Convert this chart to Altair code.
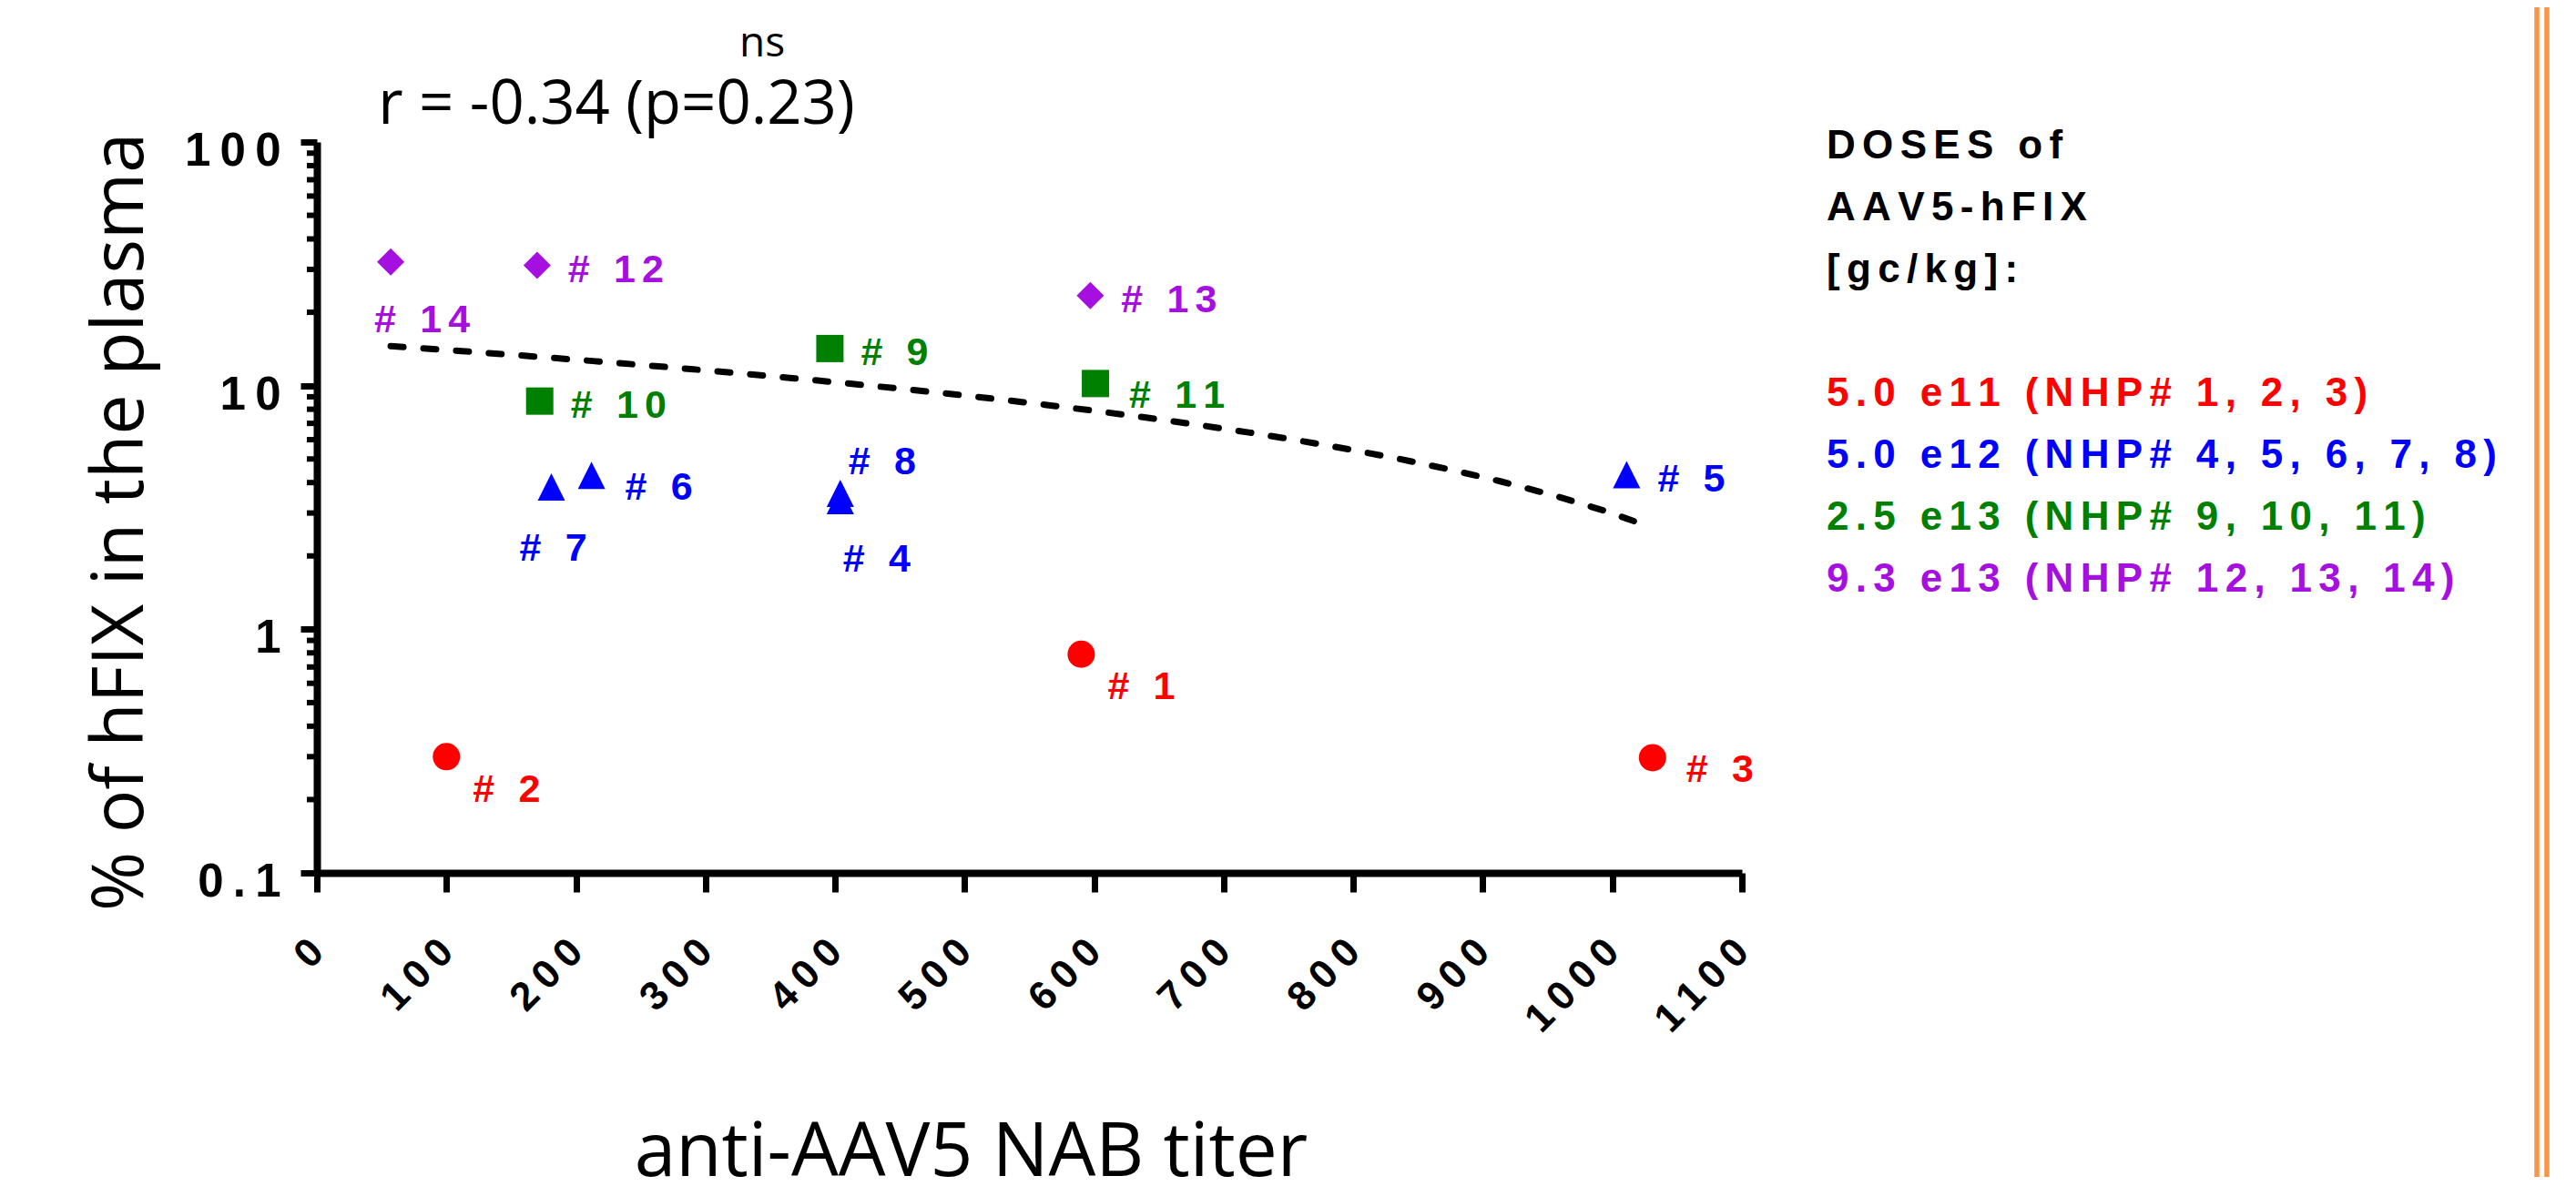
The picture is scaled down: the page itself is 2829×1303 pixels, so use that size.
import altair as alt
import pandas as pd

# ---------------- data ----------------
nhp = [1, 2, 3, 4, 5, 6, 7, 8, 9, 10, 11, 12, 13, 14]
titer = [590, 100, 1031, 404, 1011, 212, 181, 404, 396, 172, 601, 170, 597, 57]
hfix = [0.79, 0.30, 0.297, 3.37, 4.31, 4.28, 3.84, 3.61, 14.2, 8.64, 10.2, 31.2, 23.4, 32.2]
dose = ["5.0 e11"] * 3 + ["5.0 e12"] * 5 + ["2.5 e13"] * 3 + ["9.3 e13"] * 3
label_place = ["se", "se", "e_low", "s", "e", "e_low", "sww", "n", "e", "e", "e_low", "e", "e", "sw"]

dose_levels = ["5.0 e11", "5.0 e12", "2.5 e13", "9.3 e13"]
dose_colors = ["#FF0000", "#0000FF", "#008000", "#A50FE0"]
dose_shapes = ["circle", "M0,-1L1,1L-1,1Z", "square", "diamond"]

x_ticks = list(range(0, 1101, 100))
y_major = [0.1, 1, 10, 100]
y_minor = [m * d for d in (0.1, 1, 10) for m in range(2, 10)]

legend_title = ["DOSES of", "AAV5-hFIX", "[gc/kg]:"]
stat_text = "r = -0.34 (p=0.23)"
sig_text = "ns"
x_title = "anti-AAV5 NAB titer"
y_title = "% of hFIX in the plasma"

# ---------------- styling / layout ----------------
THIN = "\u2009"
SIX = "\u2006"
BOLD_FONT = "Liberation Sans, Arial, sans-serif"
TEXT_FONT = "Open Sans, Noto Sans, sans-serif"
W, H = 1565, 803
PAD = {"left": 340, "top": 148, "right": 908, "bottom": 334}


def spaced(s, sp=SIX):
    return sp.join(s)


df = pd.DataFrame({
    "nhp": nhp, "titer": titer, "hfix": hfix, "dose": dose,
    "place": label_place,
    "label": [spaced(f"# {n}") for n in nhp],
})

X = alt.X(
    "titer:Q",
    scale=alt.Scale(domain=[0, 1100], nice=False, zero=False),
    axis=alt.Axis(
        values=x_ticks, grid=False,
        domainColor="black", domainWidth=8,
        tickColor="black", tickWidth=7, tickSize=21,
        labelAngle=315, labelAlign="right", labelBaseline="middle",
        labelPadding=59, labelFont=BOLD_FONT, labelFontSize=44,
        labelFontWeight="bold", labelColor="black",
        labelExpr=f"join(split(format(datum.value, 'd'), ''), '{THIN}')",
        labelOverlap=False, labelFlush=False,
        title=x_title, titleFont=TEXT_FONT, titleFontSize=82,
        titleFontWeight="normal", titleColor="black",
        titleX=718, titleY=332, titleAlign="center", titleBaseline="alphabetic",
    ),
)
Y = alt.Y(
    "hfix:Q",
    scale=alt.Scale(type="log", domain=[0.1, 100], nice=False),
    axis=alt.Axis(
        values=y_major, grid=False,
        domainColor="black", domainWidth=8,
        tickColor="black", tickWidth=7, tickSize=18,
        labelAlign="right", labelBaseline="middle",
        labelPadding=22, labelOffset=10.5,
        labelFont=BOLD_FONT, labelFontSize=51, labelFontWeight="bold",
        labelColor="black",
        labelExpr=f"join(split(datum.value < 1 ? '0.1' : format(datum.value, 'd'), ''), '{THIN}')",
        labelOverlap=False, labelFlush=False,
        title=y_title, titleFont=TEXT_FONT, titleFontSize=79,
        titleFontWeight="normal", titleColor="black",
        titleAngle=270, titleAlign="center", titleBaseline="middle",
        titleX=-216, titleY=417,
    ),
)
COLOR = alt.Color("dose:N", scale=alt.Scale(domain=dose_levels, range=dose_colors), legend=None)
SHAPE = alt.Shape("dose:N", scale=alt.Scale(domain=dose_levels, range=dose_shapes), legend=None)

base = alt.Chart(df)

minor = alt.Chart(pd.DataFrame({"hfix": y_minor})).mark_rule(
    color="black", strokeWidth=6
).encode(y=Y, x=alt.value(-11), x2=alt.value(0))

fit = base.transform_regression(
    "titer", "hfix", method="poly", order=1
).mark_line(color="black", strokeWidth=7, strokeDash=[14, 22], strokeCap="round").encode(x=X, y=Y)

points = base.mark_point(filled=True, size=900, opacity=1, strokeWidth=0).encode(
    x=X, y=Y, color=COLOR, shape=SHAPE
)

PLACE = {
    "e": (34, 3), "e_low": (37, 11), "se": (29, 34), "s": (3, 62),
    "sw": (-18, 62), "sww": (-35, 66), "n": (9, -37),
}
label_layers = []
for place, (dx, dy) in PLACE.items():
    label_layers.append(
        base.transform_filter(alt.datum.place == place).mark_text(
            align="left", baseline="middle", dx=dx, dy=dy + 2.5,
            font=BOLD_FONT, fontSize=43, fontWeight="bold",
        ).encode(x=X, y=Y, color=COLOR, text="label:N")
    )

stat = alt.Chart(pd.DataFrame({"t": [stat_text]})).mark_text(
    font=TEXT_FONT, fontSize=67, align="center", baseline="alphabetic", color="black"
).encode(x=alt.value(329), y=alt.value(-20), text="t:N")
sig = alt.Chart(pd.DataFrame({"t": [sig_text]})).mark_text(
    font=TEXT_FONT, fontSize=46, align="center", baseline="alphabetic", color="black"
).encode(x=alt.value(489), y=alt.value(-94), text="t:N")

# legend text block
LEG_X, LEG_Y0, LEG_STEP = 1658, 18, 68
legend_layers = []
for k, line in enumerate(legend_title):
    legend_layers.append(
        alt.Chart(pd.DataFrame({"t": [spaced(line)]})).mark_text(
            align="left", baseline="alphabetic", font=BOLD_FONT, fontSize=44,
            fontWeight="bold", color="black",
        ).encode(x=alt.value(LEG_X), y=alt.value(LEG_Y0 + LEG_STEP * k), text="t:N")
    )
for j, d in enumerate(dose_levels):
    members = ", ".join(str(n) for n, dd in zip(nhp, dose) if dd == d)
    txt = f"{d} (NHP# {members})"
    legend_layers.append(
        alt.Chart(pd.DataFrame({"dose": [d], "t": [spaced(txt)]})).mark_text(
            align="left", baseline="alphabetic", font=BOLD_FONT, fontSize=44,
            fontWeight="bold",
        ).encode(x=alt.value(LEG_X), y=alt.value(LEG_Y0 + LEG_STEP * (4 + j)),
                 text="t:N", color=COLOR)
    )

# slide border lines on the right
border = []
for xv in (2438, 2449):
    border.append(
        alt.Chart(pd.DataFrame({"k": [0]})).mark_rule(color="#F79646", strokeWidth=5.5).encode(
            x=alt.value(xv), y=alt.value(-PAD["top"]), y2=alt.value(H + PAD["bottom"])
        )
    )

chart = alt.layer(
    minor, fit, points, *label_layers, stat, sig, *legend_layers, *border
).properties(
    width=W, height=H,
    autosize=alt.AutoSizeParams(type="none"),
    padding=PAD,
    background="white",
).configure_view(stroke=None)

chart.save("out.html", embed_options={"renderer": "svg", "actions": False})
